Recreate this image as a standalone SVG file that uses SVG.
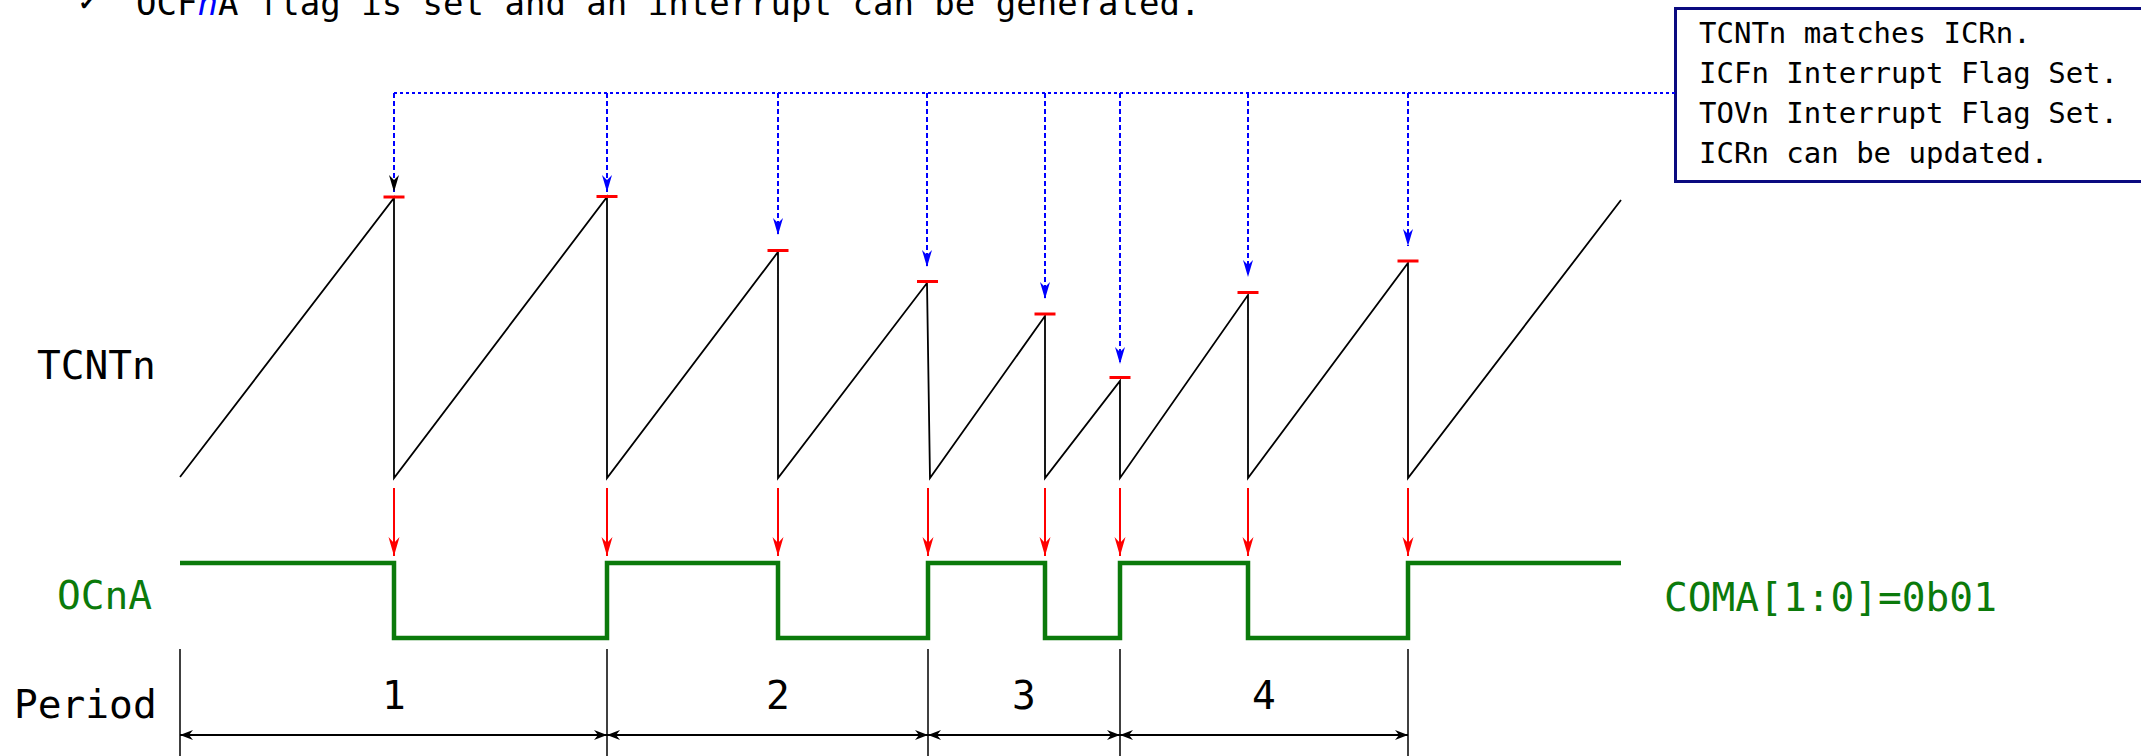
<svg xmlns="http://www.w3.org/2000/svg" width="2141" height="756" viewBox="0 0 2141 756">
<style>
.mono{font-family:"DejaVu Sans Mono","Liberation Mono",monospace;}
.lbl{font-size:39.5px;}
.box{font-size:29px;fill:#000;}
.grn{fill:#0b7a0b;}
.saw{fill:none;stroke:#000;stroke-width:1.8;stroke-linejoin:miter;}
.wave{fill:none;stroke:#0b7a0b;stroke-width:4.5;stroke-linejoin:miter;}
.tick{stroke:#ff0000;stroke-width:3;}
.bh{fill:none;stroke:#0000ff;stroke-width:2;stroke-dasharray:3 3;}
.bv{fill:none;stroke:#0000ff;stroke-width:2;stroke-dasharray:5 3;}
.rv{fill:none;stroke:#ff0000;stroke-width:2;}
.pv{stroke:#000;stroke-width:1.5;}
.ph{fill:none;stroke:#000;stroke-width:2;}
</style>
<defs>
<marker id="mb" markerUnits="userSpaceOnUse" markerWidth="20" markerHeight="14" refX="17" refY="5" orient="auto" overflow="visible">
<path d="M17,5 L0,0 L5,5 L0,10 Z" fill="#0000ff"/>
</marker>
<marker id="mk" markerUnits="userSpaceOnUse" markerWidth="20" markerHeight="14" refX="17" refY="5" orient="auto" overflow="visible">
<path d="M17,5 L0,0 L5,5 L0,10 Z" fill="#000"/>
</marker>
<marker id="mr" markerUnits="userSpaceOnUse" markerWidth="20" markerHeight="14" refX="19" refY="5.5" orient="auto" overflow="visible">
<path d="M19,5.5 L0,0 L6,5.5 L0,11 Z" fill="#ff0000"/>
</marker>
<marker id="mp" markerUnits="userSpaceOnUse" markerWidth="16" markerHeight="12" refX="13" refY="5" orient="auto-start-reverse" overflow="visible">
<path d="M13,5 L0,0 L4,5 L0,10 Z" fill="#000"/>
</marker>
</defs>

<g id="heading">
<text x="79" y="10" font-family="DejaVu Sans,sans-serif" font-size="20" fill="#000">✔</text>
<text class="mono" x="136" y="15" font-size="34" fill="#000">OCF<tspan fill="#0000ff" font-style="italic">n</tspan>A flag is set and an interrupt can be generated.</text>
</g>

<g id="label-tcntn"><text class="mono lbl" x="37" y="379" fill="#000">TCNTn</text></g>
<g id="label-ocna"><text class="mono lbl grn" x="57" y="609">OCnA</text></g>
<g id="label-period"><text class="mono lbl" x="14" y="718" fill="#000">Period</text></g>
<g id="label-coma"><text class="mono lbl grn" x="1664" y="611">COMA[1:0]=0b01</text></g>

<g id="note-box">
<rect x="1675.5" y="8.5" width="480" height="173" fill="#fff" stroke="#0a0a80" stroke-width="3"/>
<text class="mono box" x="1699" y="42.5">TCNTn matches ICRn.</text>
<text class="mono box" x="1699" y="82.5">ICFn Interrupt Flag Set.</text>
<text class="mono box" x="1699" y="122.5">TOVn Interrupt Flag Set.</text>
<text class="mono box" x="1699" y="162.5">ICRn can be updated.</text>
</g>

<g id="tcnt-waveform">
<path class="saw" d="M180,477 L394,198 L394,478 L607,197 L607,478 L778,252 L778,478 L927,283 L930,478 L1045,316 L1045,478 L1120,381 L1120,478 L1248,295 L1248,478 L1408,263 L1408,478 L1621,200"/>
<line class="tick" x1="383.5" y1="197" x2="404.5" y2="197"/>
<line class="tick" x1="596.5" y1="196.5" x2="617.5" y2="196.5"/>
<line class="tick" x1="767.5" y1="250.5" x2="788.5" y2="250.5"/>
<line class="tick" x1="917" y1="281.5" x2="938" y2="281.5"/>
<line class="tick" x1="1034.5" y1="314" x2="1055.5" y2="314"/>
<line class="tick" x1="1109.5" y1="377.5" x2="1130.5" y2="377.5"/>
<line class="tick" x1="1237.5" y1="292.5" x2="1258.5" y2="292.5"/>
<line class="tick" x1="1397.5" y1="261" x2="1418.5" y2="261"/>
</g>

<g id="ocna-waveform">
<path class="wave" d="M180,563 H394 V638 H607 V563 H778 V638 H928 V563 H1045 V638 H1120 V563 H1248 V638 H1408 V563 H1621"/>
</g>

<g id="period-markers">
<line class="pv" x1="180" y1="649" x2="180" y2="756"/>
<line class="pv" x1="607" y1="649" x2="607" y2="756"/>
<line class="pv" x1="928" y1="649" x2="928" y2="756"/>
<line class="pv" x1="1120" y1="649" x2="1120" y2="756"/>
<line class="pv" x1="1408" y1="649" x2="1408" y2="756"/>
<text class="mono lbl" x="394" y="709" text-anchor="middle" fill="#000">1</text>
<text class="mono lbl" x="778" y="709" text-anchor="middle" fill="#000">2</text>
<text class="mono lbl" x="1024" y="709" text-anchor="middle" fill="#000">3</text>
<text class="mono lbl" x="1264" y="709" text-anchor="middle" fill="#000">4</text>
</g>

<g id="connectors">
<path class="bh" d="M394,93 H1675"/>
<path class="bv" d="M394,93 V192" marker-end="url(#mk)"/>
<path class="bv" d="M607,93 V192" marker-end="url(#mb)"/>
<path class="bv" d="M778,93 V235" marker-end="url(#mb)"/>
<path class="bv" d="M927,93 V267" marker-end="url(#mb)"/>
<path class="bv" d="M1045,93 V299" marker-end="url(#mb)"/>
<path class="bv" d="M1120,93 V364" marker-end="url(#mb)"/>
<path class="bv" d="M1248,93 V277" marker-end="url(#mb)"/>
<path class="bv" d="M1408,93 V246" marker-end="url(#mb)"/>

<path class="rv" d="M394,488 V556" marker-end="url(#mr)"/>
<path class="rv" d="M607,488 V556" marker-end="url(#mr)"/>
<path class="rv" d="M778,488 V556" marker-end="url(#mr)"/>
<path class="rv" d="M928,488 V556" marker-end="url(#mr)"/>
<path class="rv" d="M1045,488 V556" marker-end="url(#mr)"/>
<path class="rv" d="M1120,488 V556" marker-end="url(#mr)"/>
<path class="rv" d="M1248,488 V556" marker-end="url(#mr)"/>
<path class="rv" d="M1408,488 V556" marker-end="url(#mr)"/>

<path class="ph" d="M180,735 H607" marker-start="url(#mp)" marker-end="url(#mp)"/>
<path class="ph" d="M607,735 H928" marker-start="url(#mp)" marker-end="url(#mp)"/>
<path class="ph" d="M928,735 H1120" marker-start="url(#mp)" marker-end="url(#mp)"/>
<path class="ph" d="M1120,735 H1408" marker-start="url(#mp)" marker-end="url(#mp)"/>
</g>
</svg>
